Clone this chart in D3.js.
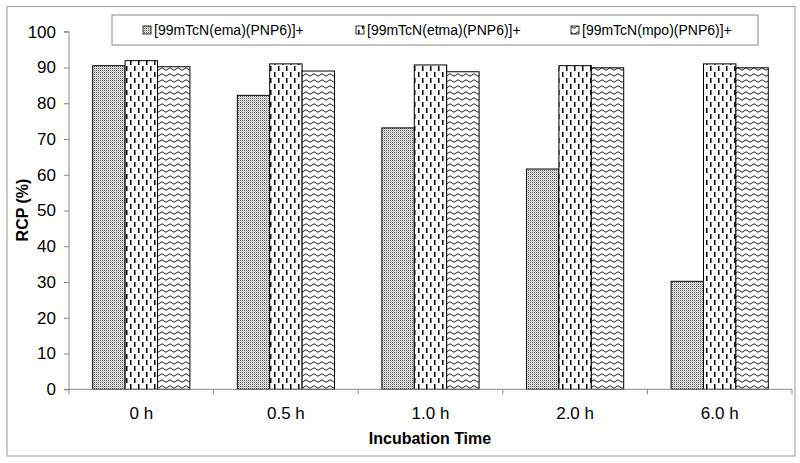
<!DOCTYPE html>
<html><head><meta charset="utf-8">
<script src="https://cdn.jsdelivr.net/npm/d3@7"></script>
<style>body{margin:0;background:#fff}svg{display:block}text{font-family:Arial,"Liberation Sans",sans-serif}</style>
</head><body>
<svg id="c" width="800" height="463"></svg>
<script>
const categories = ["0 h", "0.5 h", "1.0 h", "2.0 h", "6.0 h"];
const seriesNames = ["[99mTcN(ema)(PNP6)]+", "[99mTcN(etma)(PNP6)]+", "[99mTcN(mpo)(PNP6)]+"];
const emaValues = [90.5, 82.2, 73.1, 61.6, 30.2];
const etmaValues = [91.9, 91.0, 90.7, 90.5, 91.0];
const mpoValues = [90.2, 89.0, 88.8, 89.9, 89.9];
const yTicks = [0, 10, 20, 30, 40, 50, 60, 70, 80, 90, 100];
const seriesValues = [emaValues, etmaValues, mpoValues];
const patternIds = ["pDots", "pDash", "pWave"];

const svg = d3.select("#c");
const defs = svg.append("defs");
// dots pattern
const p1 = defs.append("pattern").attr("id", "pDots").attr("patternUnits", "userSpaceOnUse").attr("width", 2).attr("height", 2);
p1.append("rect").attr("width", 2).attr("height", 2).attr("fill", "#f2f2f2");
p1.append("rect").attr("x", 0).attr("y", 0).attr("width", 1).attr("height", 1).attr("fill", "#555");
p1.append("rect").attr("x", 1).attr("y", 1).attr("width", 1).attr("height", 1).attr("fill", "#b8b8b8");
// dashed vertical
const p2 = defs.append("pattern").attr("id", "pDash").attr("patternUnits", "userSpaceOnUse").attr("width", 8).attr("height", 12);
p2.append("rect").attr("width", 8).attr("height", 12).attr("fill", "#fff");
p2.append("rect").attr("x", 2).attr("y", 0).attr("width", 1.5).attr("height", 5).attr("fill", "#000");
p2.append("rect").attr("x", 6).attr("y", 6).attr("width", 1.5).attr("height", 5).attr("fill", "#000");
// wave
const p3 = defs.append("pattern").attr("id", "pWave").attr("patternUnits", "userSpaceOnUse").attr("width", 8).attr("height", 6);
p3.append("rect").attr("width", 8).attr("height", 6).attr("fill", "#fff");
p3.append("path").attr("d", "M0,3 Q2,0.5 4,3 T8,3").attr("fill", "none").attr("stroke", "#222").attr("stroke-width", 1);

// outer border
svg.append("rect").attr("x", 7).attr("y", 6.5).attr("width", 788).attr("height", 449.5)
  .attr("fill", "none").attr("stroke", "#aaa").attr("stroke-width", 1.2);

const mLeft = 69, mRight = 792, mTop = 31.7, mBottom = 389.3;
const x = d3.scaleBand().domain(categories).range([mLeft, mRight]).paddingInner(0).paddingOuter(0);
const x1 = d3.scaleBand().domain(d3.range(3)).range([23.7, x.bandwidth() - 23.7]);
const y = d3.scaleLinear().domain([0, 100]).range([mBottom, mTop]);

// bars
categories.forEach((cat, i) => {
  seriesValues.forEach((vals, s) => {
    svg.append("rect")
      .attr("x", x(cat) + x1(s))
      .attr("y", y(vals[i]))
      .attr("width", x1.bandwidth())
      .attr("height", y(0) - y(vals[i]))
      .attr("fill", `url(#${patternIds[s]})`)
      .attr("stroke", "#000").attr("stroke-width", 1);
  });
});

// y axis
const yAxis = svg.append("g").attr("transform", `translate(${mLeft},0)`)
  .call(d3.axisLeft(y).tickValues(yTicks).tickSize(5).tickPadding(8));
yAxis.select(".domain").attr("stroke", "#888").attr("d", `M-5,${mBottom}H0V${mTop}H-5`);
yAxis.selectAll(".tick line").attr("stroke", "#888");
yAxis.selectAll(".tick text").attr("font-size", 17).attr("fill", "#000").attr("font-family", "Arial, 'Liberation Sans', sans-serif");

// x axis
const xg = svg.append("g").attr("transform", `translate(0,${mBottom})`);
xg.append("line").attr("x1", mLeft).attr("x2", mRight).attr("y1", 0).attr("y2", 0).attr("stroke", "#888");
const boundaries = categories.map(c => x(c)).concat([mRight]);
xg.selectAll("line.t").data(boundaries).enter().append("line").attr("class", "t")
  .attr("x1", d => d).attr("x2", d => d).attr("y1", 0).attr("y2", 5).attr("stroke", "#888");
xg.selectAll("text.lbl").data(categories).enter().append("text").attr("class", "lbl")
  .attr("x", d => x(d) + x.bandwidth() / 2).attr("y", 30)
  .attr("text-anchor", "middle").attr("font-size", 17).text(d => d);

// axis titles
svg.append("text").attr("x", 430).attr("y", 444).attr("text-anchor", "middle")
  .attr("font-size", 16).attr("font-weight", "bold").text("Incubation Time");
svg.append("text").attr("transform", "translate(28,210) rotate(-90)").attr("text-anchor", "middle")
  .attr("font-size", 16).attr("font-weight", "bold").text("RCP (%)");

// legend
const lg = svg.append("g");
lg.append("rect").attr("x", 112).attr("y", 15).attr("width", 646).attr("height", 30)
  .attr("fill", "#fff").attr("stroke", "#888").attr("stroke-width", 1);
const legX = [143, 356, 571];
seriesNames.forEach((n, s) => {
  lg.append("rect").attr("x", legX[s]).attr("y", 26).attr("width", 8).attr("height", 8)
    .attr("fill", `url(#${patternIds[s]})`).attr("stroke", "#000").attr("stroke-width", 0.8);
  lg.append("text").attr("x", legX[s] + 11).attr("y", 35).attr("font-size", 14).text(n);
});
</script>
</body></html>
